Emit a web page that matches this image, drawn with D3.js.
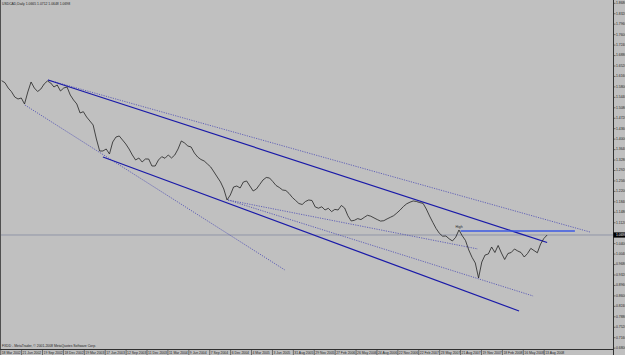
<html>

<head>
  <script src="https://d3js.org/d3.v7.min.js"></script>
  <style>
    body {
      margin: 0;
      background: #c0c0c0;
    }

    text {
      font-family: "Liberation Sans", Arial, sans-serif;
      font-size: 3.4px;
      fill: #1e1e1e;
    }
  </style>
</head>

<body>
  <svg id="chart" width="625" height="355"></svg>
  <script>
    const symbolTitle = "USDCAD,Daily  1.0665 1.0712 1.0648 1.0698";
    const copyright = "FXDD - MetaTrader, \u00a9 2001-2008 MetaQuotes Software Corp.";

    // one label every 64 daily bars
    const dateLabels = ["18 Mar 2002", "21 Jun 2002", "19 Sep 2002", "18 Dec 2002", "19 Mar 2003", "17 Jun 2003",
      "12 Sep 2003", "11 Dec 2003", "11 Mar 2004", "9 Jun 2004", "7 Sep 2004", "6 Dec 2004", "4 Mar 2005",
      "3 Jun 2005", "31 Aug 2005", "29 Nov 2005", "27 Feb 2006", "26 May 2006", "24 Aug 2006", "22 Nov 2006",
      "22 Feb 2007", "23 May 2007", "21 Aug 2007", "19 Nov 2007", "18 Feb 2008", "16 May 2008", "13 Aug 2008"];
    const barsPerLabel = 64;

    const priceTicks = [1.8680, 1.8320, 1.7960, 1.7600, 1.7240, 1.6880, 1.6520, 1.6160, 1.5800, 1.5440, 1.5080,
      1.4720, 1.4360, 1.4000, 1.3640, 1.3280, 1.2920, 1.2560, 1.2200, 1.1840, 1.1480, 1.1120, 1.0760, 1.0400,
      1.0040, 0.9680, 0.9320, 0.8960, 0.8600, 0.8240, 0.7880, 0.7520, 0.7160, 0.6800];

    // closes sampled every 10 bars, starting at bar 3
    const firstBar = 3;
    const barStep = 10;
    const closes = [
      1.6014, 1.5945, 1.5762, 1.5635, 1.5452, 1.5383, 1.5418, 1.5211, 1.5625, 1.5969,
      1.5762, 1.5642, 1.5728, 1.5900, 1.6004, 1.5935, 1.5797, 1.5866, 1.5659, 1.5762,
      1.5797, 1.5521, 1.5349, 1.5211, 1.4901, 1.4946, 1.4763, 1.4626, 1.4488, 1.4005,
      1.3592, 1.3592, 1.3661, 1.3489, 1.3902, 1.4074, 1.4109, 1.3971, 1.3833, 1.3661,
      1.3454, 1.3282, 1.3351, 1.3213, 1.3316, 1.3316, 1.3075, 1.3075, 1.3282, 1.3396,
      1.3341, 1.3454, 1.3351, 1.3454, 1.3661, 1.3937, 1.3868, 1.3764, 1.3730, 1.3523,
      1.3385, 1.3299, 1.3248, 1.3144, 1.3041, 1.2869, 1.2696, 1.2524, 1.2283, 1.1904,
      1.2076, 1.2352, 1.2386, 1.2317, 1.2524, 1.2559, 1.2386, 1.2214, 1.2283, 1.2438,
      1.2593, 1.2679, 1.2662, 1.2541, 1.2404, 1.2335, 1.2249, 1.2231, 1.2128, 1.1990,
      1.1887, 1.1783, 1.1749, 1.1852, 1.1904, 1.1887, 1.1663, 1.1622, 1.1670, 1.1560,
      1.1618, 1.1504, 1.1580, 1.1560, 1.1715, 1.1628, 1.1360, 1.1181, 1.1205, 1.1263,
      1.1229, 1.1305, 1.1377, 1.1346, 1.1287, 1.1229, 1.1177, 1.1191, 1.1253, 1.1308,
      1.1363, 1.1456, 1.1560, 1.1680, 1.1773, 1.1828, 1.1870, 1.1852, 1.1814, 1.1790,
      1.1594, 1.1353, 1.1132, 1.0922, 1.0757, 1.0657, 1.0664, 1.0567, 1.0492, 1.0619,
      1.0871, 1.0674, 1.0509, 1.0182, 0.9930, 0.9734, 0.9217, 0.9768, 1.0009, 1.0044,
      1.0285, 1.0095, 1.0337, 1.0078, 0.9854, 1.0061, 1.0095, 1.0216, 1.0147, 1.0095,
      0.9940, 1.0061, 1.0237, 1.0161, 1.0085, 1.0388, 1.0578, 1.0698];
    const bid = 1.0698;

    // trend lines: [bar1, price1, bar2, price2]
    const solidLines = [[145, 1.6038, 1673, 1.0440], [313, 1.3385, 1587, 0.8080]];
    const dottedLines = [[145, 1.6038, 1804, 1.0802], [74, 1.5177, 870, 0.9493],
      [696, 1.1904, 1630, 0.8597], [696, 1.1904, 1461, 1.0216]];
    // horizontal "High" level: [bar1, bar2, price]
    const highLevel = [1408, 1758, 1.0836];

    const chartRight = 613;
    const chartBottom = 349;

    const xScale = d3.scaleLinear().domain([0, barsPerLabel * 26]).range([0.7, 544.2]);
    const yScale = d3.scaleLinear().domain([1.8680, 0.6800]).range([3.3, 348.15]);

    let svg = d3.select("svg#chart");

    svg.append("rect")
      .attr("width", 625).attr("height", 355)
      .attr("fill", "#c0c0c0");

    // current bid line
    svg.append("line")
      .attr("x1", 0).attr("x2", chartRight)
      .attr("y1", yScale(bid)).attr("y2", yScale(bid))
      .attr("stroke", "#8c92a6")
      .attr("stroke-width", 0.9);

    let lineGen = d3.line()
      .x(d => xScale(d[0]))
      .y(d => yScale(d[1]));

    dottedLines.forEach(l => {
      svg.append("path")
        .attr("d", lineGen([[l[0], l[1]], [l[2], l[3]]]))
        .attr("stroke", "#4a4ab4")
        .attr("stroke-width", 0.8)
        .attr("stroke-dasharray", "1.2,1.2")
        .attr("fill", "none");
    });

    solidLines.forEach(l => {
      svg.append("path")
        .attr("d", lineGen([[l[0], l[1]], [l[2], l[3]]]))
        .attr("stroke", "#1a1aa8")
        .attr("stroke-width", 1.25)
        .attr("fill", "none");
    });

    svg.append("line")
      .attr("x1", xScale(highLevel[0])).attr("x2", xScale(highLevel[1]))
      .attr("y1", yScale(highLevel[2])).attr("y2", yScale(highLevel[2]))
      .attr("stroke", "#3c5ae4")
      .attr("stroke-width", 1.4);

    svg.append("text")
      .attr("x", xScale(highLevel[0]) - 5)
      .attr("y", yScale(highLevel[2]) - 2.5)
      .text("High");

    let priceData = closes.map((c, i) => [firstBar + i * barStep, c]);
    svg.append("path")
      .attr("d", lineGen(priceData))
      .attr("stroke", "#1a1a1a")
      .attr("stroke-width", 0.75)
      .attr("fill", "none");

    // frame
    svg.append("line")
      .attr("x1", 0.5).attr("x2", 0.5).attr("y1", 0).attr("y2", chartBottom)
      .attr("stroke", "#505050").attr("stroke-width", 1);
    svg.append("line")
      .attr("x1", chartRight + 0.5).attr("x2", chartRight + 0.5).attr("y1", 0).attr("y2", 355)
      .attr("stroke", "#303030").attr("stroke-width", 1);
    svg.append("line")
      .attr("x1", 0).attr("x2", chartRight).attr("y1", chartBottom + 0.5).attr("y2", chartBottom + 0.5)
      .attr("stroke", "#303030").attr("stroke-width", 1);

    // price axis (labels under the bid box are hidden, as the terminal does)
    let pAxis = svg.append("g");
    priceTicks.forEach(p => {
      pAxis.append("line")
        .attr("x1", chartRight).attr("x2", chartRight + 2.5)
        .attr("y1", yScale(p)).attr("y2", yScale(p))
        .attr("stroke", "#303030").attr("stroke-width", 0.6);
      if (Math.abs(yScale(p) - yScale(bid)) < 5.5) return;
      pAxis.append("text")
        .attr("x", chartRight + 3)
        .attr("y", yScale(p))
        .attr("dominant-baseline", "middle")
        .text(p.toFixed(4));
    });

    pAxis.append("rect")
      .attr("x", chartRight + 0.5).attr("y", yScale(bid) - 2.6)
      .attr("width", 12).attr("height", 5.2)
      .attr("fill", "#000");
    pAxis.append("text")
      .attr("x", chartRight + 3)
      .attr("y", yScale(bid))
      .attr("dominant-baseline", "middle")
      .style("fill", "#fff")
      .text(bid.toFixed(4));

    // time axis
    let tAxis = svg.append("g");
    dateLabels.forEach((d, i) => {
      let x = xScale(i * barsPerLabel);
      tAxis.append("line")
        .attr("x1", x).attr("x2", x)
        .attr("y1", chartBottom).attr("y2", 355)
        .attr("stroke", "#303030").attr("stroke-width", 0.6);
      tAxis.append("text")
        .attr("x", x + 1)
        .attr("y", 353.6)
        .text(d);
    });

    svg.append("text").attr("x", 2).attr("y", 5.2).text(symbolTitle);
    svg.append("text").attr("x", 2).attr("y", 347).text(copyright);
  </script>
</body>

</html>
